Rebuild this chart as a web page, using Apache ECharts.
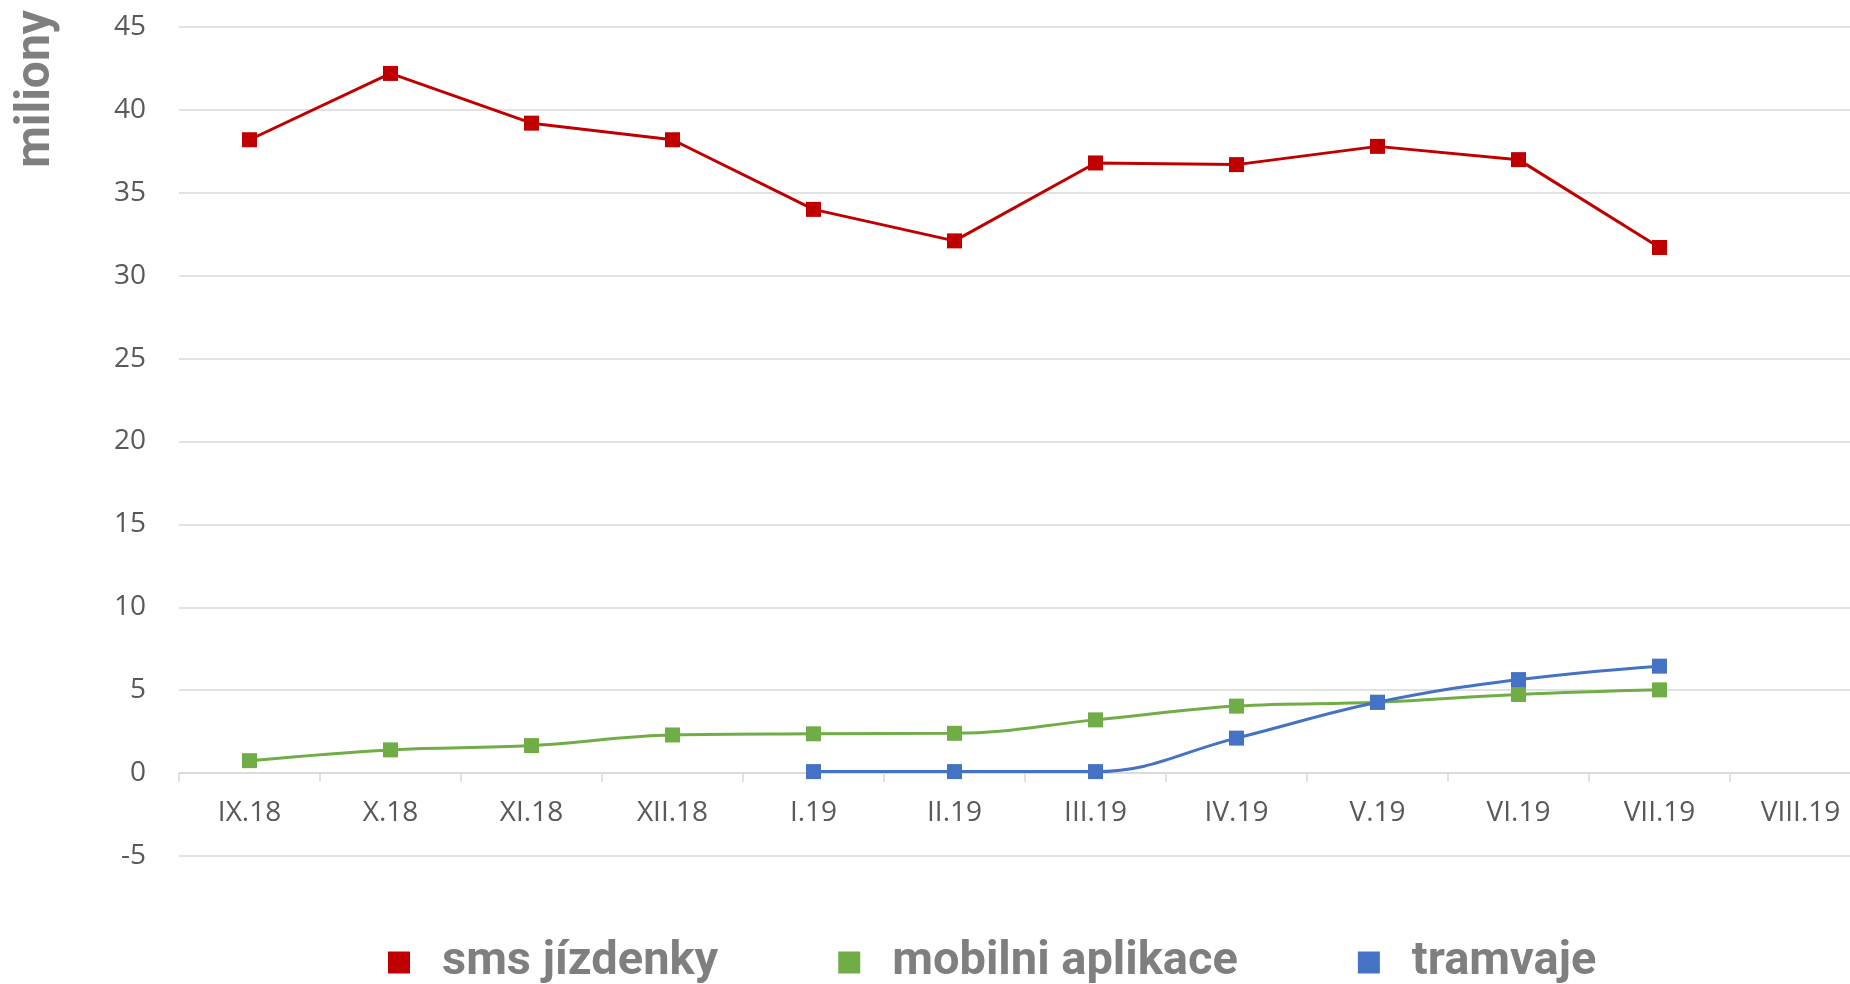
<!DOCTYPE html>
<html>
<head>
<meta charset="utf-8">
<style>
  html, body { margin: 0; padding: 0; background: #fff; }
  #chart { width: 1850px; height: 984px; }
</style>
<script src="https://cdn.jsdelivr.net/npm/echarts@6/dist/echarts.min.js"></script>
</head>
<body>
<div id="chart"></div>
<script>
// mesice
const months = ["IX.18", "X.18", "XI.18", "XII.18", "I.19", "II.19", "III.19", "IV.19", "V.19", "VI.19", "VII.19", "VIII.19"];
// milionu jizd
const smsTickets = [38.2, 42.2, 39.2, 38.2, 34.0, 32.1, 36.8, 36.7, 37.8, 37.0, 31.7, null];
const mobileApp = [0.75, 1.4, 1.66, 2.3, 2.37, 2.4, 3.21, 4.04, 4.27, 4.74, 5.02, null];
const trams = [null, null, null, null, 0.09, 0.09, 0.09, 2.11, 4.27, 5.64, 6.45, null];

const seriesNames = ["sms jízdenky", "mobilni aplikace", "tramvaje"];
const colors = ["#C00000", "#70AD47", "#4472C4"];

let myChart = echarts.init(document.getElementById("chart"));

function lineSeries(name, data, color, smooth) {
  return {
    name: name,
    type: "line",
    data: data,
    smooth: smooth,
    symbol: "rect",
    symbolSize: 15,
    showAllSymbol: true,
    connectNulls: false,
    lineStyle: { width: 3, color: color },
    itemStyle: { color: color },
    emphasis: { disabled: true }
  };
}

myChart.setOption({
  animation: false,
  color: colors,
  grid: {
    left: 179,
    right: -21, // plocha grafu presahuje pravy okraj
    top: 27,
    bottom: 128,
    outerBoundsMode: "none",
    containLabel: false
  },
  legend: {
    left: 383,
    top: 934,
    icon: "rect",
    itemWidth: 22,
    itemHeight: 22,
    itemGap: 120,
    data: seriesNames,
    textStyle: {
      color: "#7F7F7F",
      fontFamily: "Roboto",
      fontWeight: "bold",
      fontSize: 47,
      padding: [0, 0, 0, 27]
    }
  },
  graphic: [
    {
      // popisek osy y
      type: "text",
      x: 37,
      y: 10,
      rotation: Math.PI / 2,
      style: {
        text: "miliony",
        fill: "#7F7F7F",
        font: "bold 48px Roboto",
        textAlign: "right",
        textVerticalAlign: "middle"
      }
    }
  ],
  xAxis: {
    type: "category",
    data: months,
    boundaryGap: true,
    axisLine: { onZero: true, lineStyle: { color: "#D9D9D9", width: 1.5 } },
    axisTick: { show: true, length: 9, lineStyle: { color: "#D9D9D9", width: 1.5 } },
    axisLabel: {
      interval: 0,
      margin: -57,
      color: "#595959",
      fontFamily: "Open Sans",
      fontSize: 28
    },
    splitLine: { show: false }
  },
  yAxis: {
    type: "value",
    min: -5,
    max: 45,
    interval: 5,
    axisLine: { show: false },
    axisTick: { show: false },
    axisLabel: {
      margin: 33,
      color: "#595959",
      fontFamily: "Open Sans",
      fontSize: 28
    },
    splitLine: { lineStyle: { color: "#D9D9D9", width: 1.5 } }
  },
  series: [
    lineSeries(seriesNames[0], smsTickets, colors[0], false),
    lineSeries(seriesNames[1], mobileApp, colors[1], 0.4),
    lineSeries(seriesNames[2], trams, colors[2], 0.4)
  ]
});

window.onresize = function () {
  myChart.resize();
};
</script>
</body>
</html>
